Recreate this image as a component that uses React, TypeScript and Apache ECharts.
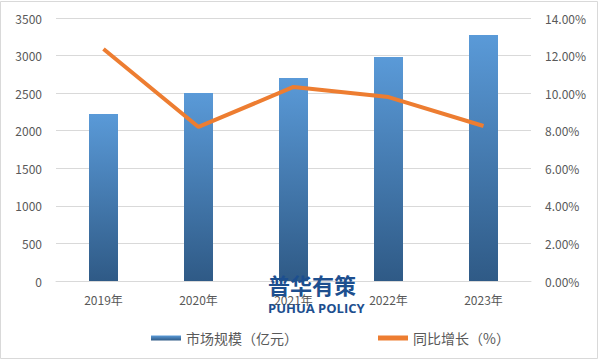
import React, { useEffect, useRef } from "react";
import * as echarts from "echarts";

const categories = ["2019年", "2020年", "2021年", "2022年", "2023年"];
const marketSize = [2222, 2502, 2702, 2981, 3274];
const growth = [0.1235, 0.082, 0.1033, 0.0979, 0.0825];
const barName = "市场规模（亿元）";
const lineName = "同比增长（%）";

export default function App() {
  const ref = useRef<HTMLDivElement>(null);
  useEffect(() => {
    document.body.style.margin = "0";
    const chart = echarts.init(ref.current!, null, { renderer: "svg" });
    const font = "'Noto Sans CJK SC', 'Noto Sans', sans-serif";
    chart.setOption({
      animation: false,
      textStyle: { fontFamily: font },
      grid: { left: 56, right: 70, top: 18, bottom: 80 },
      legend: {
        left: 146,
        top: 326,
        itemGap: 80,
        itemWidth: 30,
        itemHeight: 5,
        textStyle: { color: "#595959", fontSize: 14, fontFamily: font },
        data: [
          { name: barName, icon: "rect" },
          { name: lineName, icon: "rect", itemStyle: { color: "#ED7D31" } },
        ],
      },
      xAxis: {
        type: "category",
        data: categories,
        axisLine: { lineStyle: { color: "#d9d9d9" } },
        axisTick: { show: false },
        axisLabel: { color: "#595959", fontSize: 12, margin: 12 },
      },
      yAxis: [
        {
          type: "value",
          min: 0,
          max: 3500,
          interval: 500,
          axisLine: { show: false },
          axisTick: { show: false },
          axisLabel: {
            color: "#595959",
            fontSize: 12,
            margin: 14,
            formatter: (v: number) => String(v),
          },
          splitLine: { lineStyle: { color: "#d9d9d9" } },
        },
        {
          type: "value",
          min: 0,
          max: 0.14,
          interval: 0.02,
          axisLine: { show: false },
          axisTick: { show: false },
          splitLine: { show: false },
          axisLabel: {
            color: "#595959",
            fontSize: 12,
            margin: 14,
            formatter: (v: number) => (v * 100).toFixed(2) + "%",
          },
        },
      ],
      series: [
        {
          name: barName,
          type: "bar",
          data: marketSize,
          barWidth: 29,
          itemStyle: {
            color: new echarts.graphic.LinearGradient(0, 0, 0, 1, [
              { offset: 0, color: "#5a9ad8" },
              { offset: 1, color: "#2f5a86" },
            ]),
          },
        },
        {
          name: lineName,
          type: "line",
          yAxisIndex: 1,
          data: growth,
          symbol: "none",
          lineStyle: { color: "#ED7D31", width: 4 },
          itemStyle: { color: "#ED7D31" },
        },
      ],
      graphic: [
        {
          type: "rect",
          shape: { x: 0.5, y: 1.5, width: 597, height: 357 },
          style: { fill: "none", stroke: "#d9d9d9", lineWidth: 1 },
          silent: true,
        },
        {
          type: "text",
          left: 268,
          top: 273,
          z: 100,
          style: {
            text: "普华有策",
            fill: "#1d4f8f",
            font: "bold 22px 'Noto Sans CJK SC', sans-serif",
          },
        },
        {
          type: "text",
          left: 268,
          top: 301,
          z: 100,
          style: {
            text: "PUHUA POLICY",
            fill: "#1d4f8f",
            font: "bold 13px 'Open Sans', sans-serif",
          },
        },
      ],
    });
    return () => chart.dispose();
  }, []);
  return (
    <div
      ref={ref}
      style={{ position: "absolute", left: 0, top: 0, width: 601, height: 361 }}
    />
  );
}
